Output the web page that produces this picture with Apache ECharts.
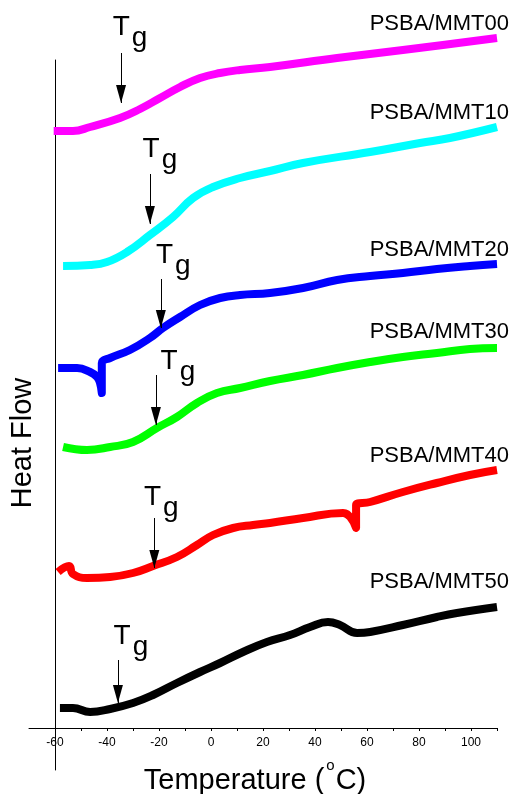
<!DOCTYPE html>
<html>
<head>
<meta charset="utf-8">
<script src="https://cdn.jsdelivr.net/npm/echarts@6/dist/echarts.min.js"></script>
<style>
  html, body { margin: 0; padding: 0; background: #fff; }
  #chart { width: 512px; height: 794px; }
</style>
</head>
<body>
<div id="chart"></div>
<script>
// DSC traces (heat flow, stacked with offsets) versus temperature in °C
const tickValues = [-60, -50, -40, -30, -20, -10, 0, 10, 20, 30, 40, 50, 60, 70, 80, 90, 100, 110];
const tickLabels = [-60, -40, -20, 0, 20, 40, 60, 80, 100];

const sampleNames = ['PSBA/MMT00', 'PSBA/MMT10', 'PSBA/MMT20', 'PSBA/MMT30', 'PSBA/MMT40', 'PSBA/MMT50'];
const sampleColors = ['#FF00FF', '#00FFFF', '#0000FF', '#00FF00', '#FF0000', '#000000'];

const tempMMT00 = [-60.5, -53.1, -46.5, -35.0, -27.3, -19.6, -11.9, -4.2, 3.5, 11.2, 22.7, 48.5, 73.8, 89.2, 110.0];
const flowMMT00 = [59.7, 59.7, 60.1, 61.0, 61.9, 63.0, 64.1, 65.0, 65.5, 65.8, 66.1, 67.0, 67.8, 68.3, 69.0];

const tempMMT10 = [-56.9, -46.5, -40.0, -32.3, -23.5, -14.6, -6.9, 0.8, 11.2, 22.7, 35.4, 61.2, 80.4, 91.9, 110.0];
const flowMMT10 = [46.2, 46.3, 46.6, 47.6, 49.3, 51.1, 53.0, 54.1, 55.0, 55.7, 56.5, 57.6, 58.5, 59.0, 60.1];

const tempMMT20 = [-58.8, -51.5, -46.5, -43.8, -42.7, -42.0, -42.0, -38.8, -31.2, -23.5, -18.5, -11.9, -4.2, 3.5, 11.2, 22.7, 35.4, 48.5, 61.2, 73.8, 86.9, 99.6, 110.0];
const flowMMT20 = [36.0, 36.0, 35.6, 35.1, 34.5, 33.5, 36.5, 37.0, 37.8, 39.0, 40.0, 41.1, 42.3, 43.0, 43.3, 43.5, 44.0, 44.8, 45.2, 45.5, 45.9, 46.2, 46.4];

const tempMMT30 = [-56.9, -47.7, -38.8, -30.0, -20.8, -13.1, -5.4, 2.3, 11.2, 22.7, 35.4, 48.5, 61.2, 73.8, 86.9, 99.6, 110.0];
const flowMMT30 = [28.1, 27.8, 28.1, 28.6, 30.0, 31.1, 32.5, 33.5, 34.0, 34.7, 35.3, 36.0, 36.6, 37.1, 37.5, 37.9, 38.0];

const tempMMT40 = [-58.8, -54.6, -53.1, -47.7, -38.8, -30.0, -22.3, -13.1, -5.4, 0.8, 8.5, 16.2, 22.7, 35.4, 50.8, 53.5, 55.8, 55.8, 61.2, 73.8, 86.9, 99.6, 110.0];
const flowMMT40 = [15.6, 16.2, 15.4, 15.0, 15.1, 15.5, 16.2, 17.1, 18.3, 19.3, 20.0, 20.3, 20.5, 21.0, 21.5, 21.1, 20.0, 22.3, 22.6, 23.6, 24.5, 25.3, 25.8];

const tempMMT50 = [-58.1, -53.1, -46.5, -38.8, -30.0, -22.3, -13.1, -4.2, 3.5, 12.3, 21.5, 30.4, 38.1, 45.0, 49.6, 56.2, 61.2, 73.8, 86.9, 94.6, 110.0];
const flowMMT50 = [2.0, 2.0, 1.6, 1.9, 2.5, 3.3, 4.5, 5.6, 6.5, 7.6, 8.6, 9.3, 10.1, 10.6, 10.3, 9.5, 9.6, 10.3, 11.1, 11.5, 12.1];

// glass transition markers: temperature, arrow start and arrow tip (heat-flow units)
const tgTemps    = [-34.6, -23.5, -19.3, -21.2, -21.8, -35.8];
const tgArrowTop = [67.5, 55.4, 44.9, 35.3, 21.0, 6.8];
const tgArrowTip = [62.5, 50.4, 40.0, 30.3, 16.0, 2.5];

const allTemps = [tempMMT00, tempMMT10, tempMMT20, tempMMT30, tempMMT40, tempMMT50];
const allFlows = [flowMMT00, flowMMT10, flowMMT20, flowMMT30, flowMMT40, flowMMT50];

// label placement (pixels)
const nameLift = [-14.5, -14, -14, -16.5, -14.5, -25];
const tgShift = [[9, -20.5], [10, -19.5], [12.5, -18.5], [22, -8.5], [7, -15.5], [13, -18.5]];

const FONT = '"Liberation Sans", Arial, Helvetica, sans-serif';

const series = sampleNames.map(function (name, k) {
  const temps = allTemps[k];
  const flows = allFlows[k];
  const data = temps.map(function (t, i) { return [t, flows[i]]; });
  const last = data[data.length - 1];
  return {
    type: 'line',
    name: name,
    xAxisIndex: 0,
    yAxisIndex: 0,
    data: data,
    showSymbol: false,
    symbol: 'none',
    smooth: 0.45,
    clip: false,
    silent: true,
    lineStyle: { color: sampleColors[k], width: 8, join: 'round' },
    itemStyle: { color: sampleColors[k] },
    emphasis: { disabled: true },
    markPoint: {
      silent: true,
      symbol: 'circle',
      symbolSize: 0,
      data: [
        {
          coord: last,
          label: {
            show: true, position: 'inside', formatter: name,
            align: 'right', verticalAlign: 'middle',
            offset: [12, nameLift[k]],
            color: '#000', fontSize: 22, fontFamily: FONT
          }
        },
        {
          coord: [tgTemps[k], tgArrowTop[k]],
          label: {
            show: true, position: 'inside', formatter: '{t|T}{g|g}',
            align: 'center', verticalAlign: 'middle',
            offset: tgShift[k],
            rich: {
              t: { fontSize: 28, fontFamily: FONT, color: '#000', lineHeight: 28, padding: [0, 1, 11, 0] },
              g: { fontSize: 28, fontFamily: FONT, color: '#000', lineHeight: 28, padding: [11, 0, 0, 1] }
            }
          }
        }
      ]
    },
    markLine: {
      silent: true,
      symbol: ['none', 'triangle'],
      symbolSize: [10, 18],
      symbolOffset: [[0, 0], [0, 9]],
      lineStyle: { color: '#000', width: 1, type: 'solid' },
      label: { show: false },
      emphasis: { disabled: true },
      data: [[{ coord: [tgTemps[k], tgArrowTop[k]] }, { coord: [tgTemps[k], tgArrowTip[k]] }]]
    }
  };
});

const chart = echarts.init(document.getElementById('chart'), null, { renderer: 'canvas' });
chart.setOption({
  animation: false,
  backgroundColor: '#fff',
  grid: [
    // plotting area for the traces
    { left: 29, right: 15, top: 28, bottom: 66, containLabel: false, outerBoundsMode: 'none' },
    // thin strip that carries the vertical heat-flow axis line
    { left: 55, width: 1, top: 60, bottom: 24, containLabel: false, outerBoundsMode: 'none' }
  ],
  xAxis: [
    {
      gridIndex: 0,
      type: 'value',
      min: -70, max: 110,
      splitLine: { show: false },
      axisLine: { show: true, onZero: false, lineStyle: { color: '#000', width: 1 } },
      axisTick: { show: true, length: 3, inside: false, customValues: tickValues, lineStyle: { color: '#000' } },
      axisLabel: { show: true, customValues: tickLabels, margin: 9, color: '#000', fontSize: 12, fontFamily: FONT },
      name: '{a|Temperature (}{s|o}{a|C)}',
      nameLocation: 'middle',
      nameGap: 38,
      nameTextStyle: {
        padding: [0, 16, 0, 0],
        rich: {
          a: { fontSize: 29, fontFamily: FONT, color: '#000', lineHeight: 30 },
          s: { fontSize: 15, fontFamily: FONT, color: '#000', lineHeight: 15, padding: [0, 1, 30, 2] }
        }
      }
    },
    { gridIndex: 1, type: 'value', min: 0, max: 1, show: false }
  ],
  yAxis: [
    {
      gridIndex: 0,
      type: 'value',
      min: 0, max: 70,
      show: false,
      splitLine: { show: false }
    },
    {
      gridIndex: 1,
      type: 'value',
      min: 0, max: 1,
      position: 'left',
      splitLine: { show: false },
      axisLine: { show: true, onZero: false, lineStyle: { color: '#000', width: 1 } },
      axisTick: { show: false },
      axisLabel: { show: false },
      name: 'Heat Flow',
      nameLocation: 'middle',
      nameRotate: 90,
      nameGap: 18,
      nameTextStyle: { fontSize: 29, fontFamily: FONT, color: '#000', padding: [0, 56, 0, 0] }
    }
  ],
  series: series
});
</script>
</body>
</html>
